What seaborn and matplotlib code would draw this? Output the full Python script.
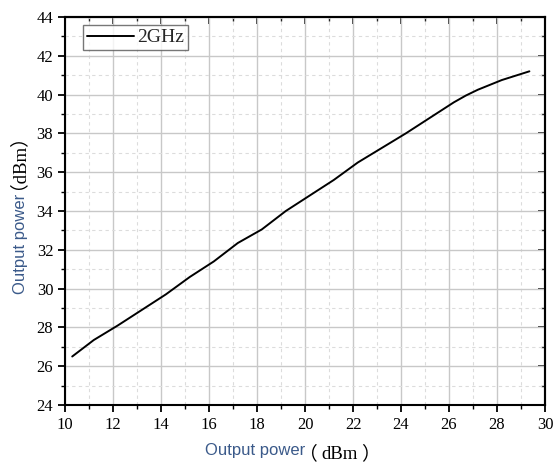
import matplotlib
matplotlib.use("Agg")
import matplotlib.pyplot as plt
import seaborn as sns
import pandas as pd
from matplotlib.ticker import MultipleLocator

x_in = [10.3, 11.2, 12.2, 13.2, 14.2, 15.2, 16.2, 17.2, 18.2, 19.2, 20.2,
        21.2, 22.2, 23.2, 24.2, 25.2, 26.2, 26.7, 27.2, 28.2, 29.35]
y_out = [26.5, 27.35, 28.1, 28.9, 29.7, 30.6, 31.4, 32.35, 33.05, 34.0, 34.8,
         35.6, 36.5, 37.25, 38.0, 38.8, 39.6, 39.95, 40.25, 40.75, 41.2]
series_name = "2GHz"
x_ticks = list(range(10, 31, 2))
y_ticks = list(range(24, 45, 2))

sns.set_theme(style="white")
plt.rcParams["font.family"] = ["Liberation Serif", "Noto Sans CJK SC", "DejaVu Serif"]

df = pd.DataFrame({"x": x_in, "y": y_out, "s": series_name})

fig = plt.figure(figsize=(5.6, 4.65), dpi=100)
ax = fig.add_axes([65/560, 1-405/465, 480/560, 388/465])

sns.lineplot(data=df, x="x", y="y", hue="s", palette=["black"], ax=ax,
             linewidth=1.4, legend=True)

ax.set_xlim(10, 30)
ax.set_ylim(24, 44)
ax.set_xticks(x_ticks)
ax.set_yticks(y_ticks)
ax.xaxis.set_minor_locator(MultipleLocator(1))
ax.yaxis.set_minor_locator(MultipleLocator(1))
ax.grid(True, which="major", color="#c8c8c8", linewidth=1.0, linestyle="-")
ax.grid(True, which="minor", color="#dcdcdc", linewidth=0.8, linestyle=(0, (3, 3)))
ax.set_axisbelow(True)

for sp in ax.spines.values():
    sp.set_color("black")
    sp.set_linewidth(1.5)

ax.tick_params(which="major", direction="out", length=5, width=1.3, colors="black",
               labelsize=12, bottom=True, left=True, top=False, right=False)
ax.tick_params(which="minor", direction="out", length=3, width=1.0, colors="black",
               bottom=True, left=True, top=False, right=False)
axt = ax.secondary_xaxis("top")
axt.set_xticks(x_ticks)
axt.xaxis.set_minor_locator(MultipleLocator(1))
axt.tick_params(which="major", direction="in", length=5, width=1.3, labeltop=False)
axt.tick_params(which="minor", direction="in", length=3, width=1.0)
axr = ax.secondary_yaxis("right")
axr.set_yticks(y_ticks)
axr.yaxis.set_minor_locator(MultipleLocator(1))
axr.tick_params(which="major", direction="in", length=5, width=1.3, labelright=False)
axr.tick_params(which="minor", direction="in", length=3, width=1.0)
for a in (axt, axr):
    for sp in a.spines.values():
        sp.set_linewidth(1.5)

ax.set_xlabel("")
ax.set_ylabel("")

label_blue = "#3b5a8a"
unit_fam = ["Liberation Serif", "Noto Sans CJK SC"]

def fx(px):
    return px / 560

def fy(py):
    return 1 - py / 465

# x label: "Output power（dBm）"
fig.text(fx(305), fy(455), "Output power", ha="right", va="baseline",
         family="Liberation Sans", fontsize=12, color=label_blue)
fig.text(fx(308), fy(454), "（", ha="center", va="center",
         family=unit_fam, fontsize=13.5, color="black")
fig.text(fx(340), fy(454), "dBm", ha="center", va="center",
         family=unit_fam, fontsize=13.5, color="black")
fig.text(fx(370), fy(454), "）", ha="center", va="center",
         family=unit_fam, fontsize=13.5, color="black")

# y label (rotated)
fig.text(fx(25), fy(194), "Output power", ha="right", va="baseline", rotation=90,
         rotation_mode="anchor", family="Liberation Sans", fontsize=12, color=label_blue)
fig.text(fx(8), fy(152), "（dBm）", ha="center", va="center", rotation=90,
         family=unit_fam, fontsize=13.5, color="black")

leg = ax.legend(loc="upper left", bbox_to_anchor=(18/480, 1-8/388), frameon=True,
                fancybox=False, handlelength=2.4, handletextpad=0.2,
                borderpad=0.2, fontsize=14, borderaxespad=0)
leg.get_frame().set_edgecolor("#555555")
leg.get_frame().set_linewidth(1.0)
for h in leg.get_lines():
    h.set_linewidth(1.4)

fig.savefig("out.png", dpi=100)
